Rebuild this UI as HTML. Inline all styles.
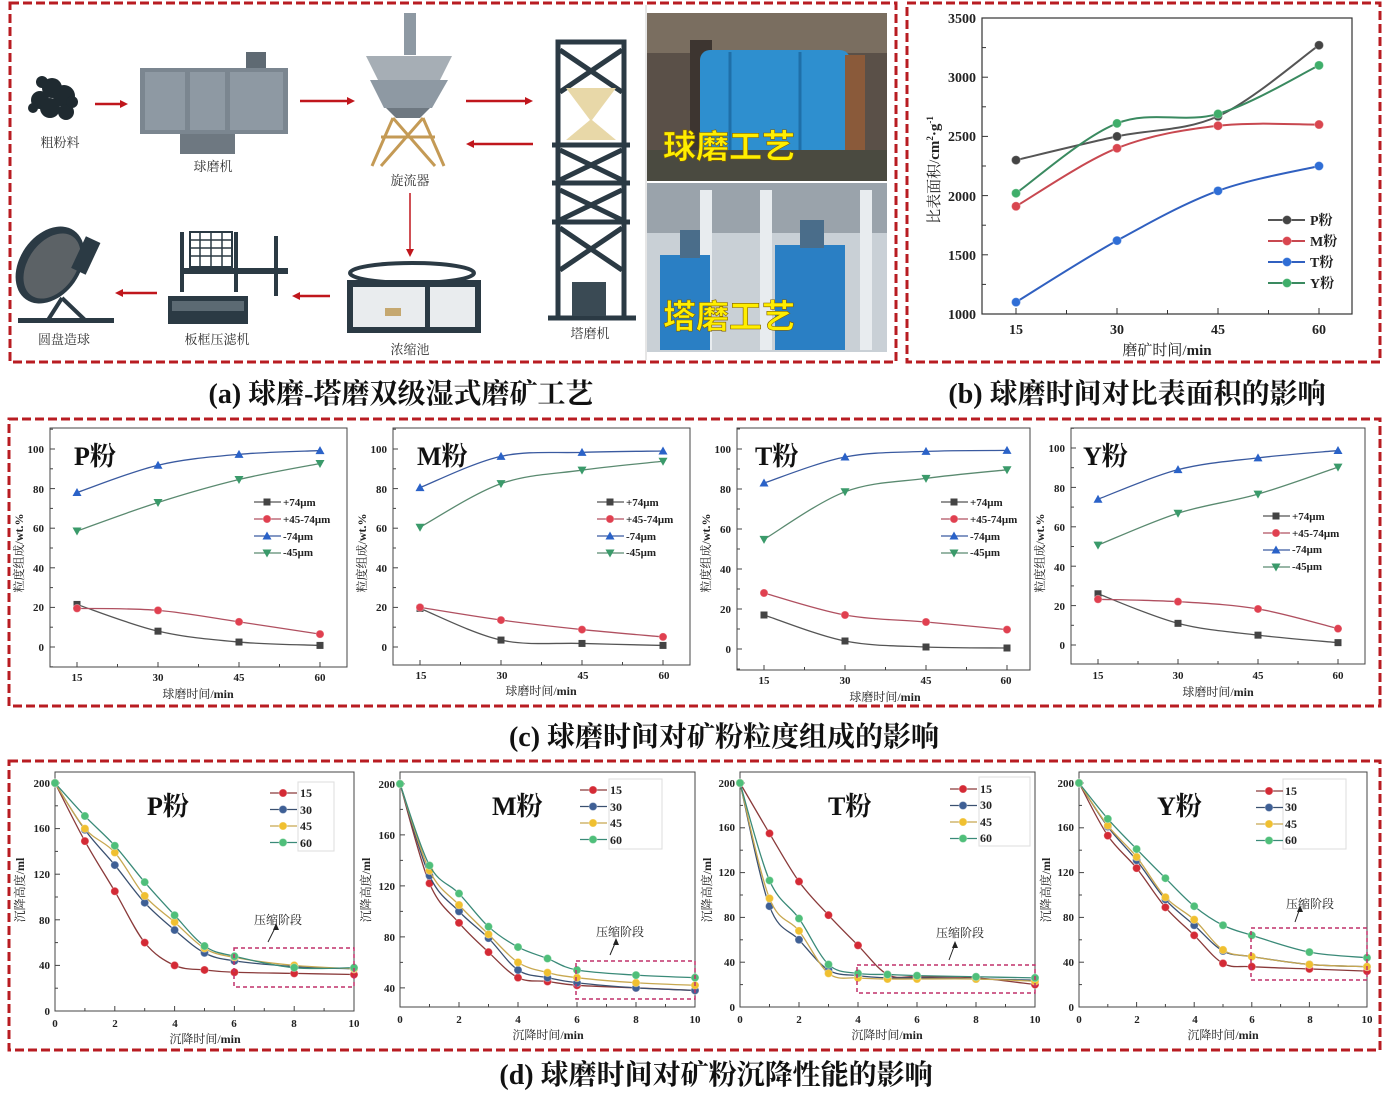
<!DOCTYPE html>
<html><head><meta charset="utf-8"><style>
html,body{margin:0;padding:0;background:#fff}
svg{display:block;font-family:"Liberation Serif","Noto Serif CJK SC",serif}
.b{font-weight:bold}
</style></head><body>
<svg id="s" width="1384" height="1109" viewBox="0 0 1384 1109" xmlns="http://www.w3.org/2000/svg">
<rect width="1384" height="1109" fill="#fff"/>
<g fill="none" stroke="#b81c22" stroke-width="3" stroke-dasharray="9 4">
<rect x="10" y="3" width="886" height="359"/>
<rect x="907" y="3" width="473" height="359"/>
<rect x="9" y="419" width="1371" height="287"/>
<rect x="9" y="761" width="1371" height="289"/>
</g>

<g>
<g fill="#1f2a30"><circle cx="40" cy="100" r="9"/><circle cx="52" cy="88" r="10"/><circle cx="64" cy="96" r="11"/><circle cx="50" cy="108" r="10"/><circle cx="66" cy="112" r="8"/><circle cx="42" cy="82" r="6"/><circle cx="72" cy="102" r="6"/><circle cx="33" cy="108" r="5"/></g>
<text x="60" y="147" font-size="13" text-anchor="middle" fill="#333">粗粉料</text>
<rect x="140" y="68" width="148" height="66" fill="#7b8690"/>
<rect x="145" y="72" width="40" height="58" fill="#8e99a3"/><rect x="190" y="72" width="35" height="58" fill="#8e99a3"/><rect x="230" y="72" width="53" height="58" fill="#8e99a3"/>
<rect x="246" y="52" width="20" height="16" fill="#5f6a73"/><rect x="180" y="134" width="55" height="20" fill="#6e7881"/>
<text x="213" y="171" font-size="13" text-anchor="middle" fill="#333">球磨机</text>
<rect x="404" y="13" width="12" height="42" fill="#8e99a3"/>
<polygon points="366,56 452,56 440,80 378,80" fill="#a6aeb5"/>
<polygon points="370,80 448,80 432,108 384,108" fill="#8e99a3"/>
<polygon points="386,108 430,108 420,118 396,118" fill="#6e7881"/>
<g stroke="#c49a55" stroke-width="3" fill="none"><line x1="393" y1="118" x2="372" y2="166"/><line x1="423" y1="118" x2="444" y2="166"/><line x1="381" y1="137" x2="435" y2="137"/><line x1="393" y1="118" x2="435" y2="166"/><line x1="423" y1="118" x2="381" y2="166"/></g>
<text x="410" y="185" font-size="13" text-anchor="middle" fill="#333">旋流器</text>
<g fill="none" stroke="#2b3a44" stroke-width="5">
<rect x="558" y="42" width="66" height="276"/>
<line x1="548" y1="318" x2="636" y2="318"/>
<line x1="552" y1="145" x2="630" y2="145"/><line x1="552" y1="222" x2="630" y2="222"/><line x1="552" y1="183" x2="630" y2="183"/>
<path d="M560,50 L622,92 M622,50 L560,92 M560,150 L622,180 M622,150 L560,180 M560,190 L622,220 M622,190 L560,220 M560,228 L622,270 M622,228 L560,270"/>
</g>
<polygon points="566,88 616,88 592,120 616,140 566,140 590,120" fill="#e8d8a8"/>
<rect x="572" y="282" width="34" height="34" fill="#3a4a54"/>
<text x="590" y="338" font-size="13" text-anchor="middle" fill="#333">塔磨机</text>
<ellipse cx="412" cy="273" rx="62" ry="10" fill="none" stroke="#2b3a44" stroke-width="4"/>
<rect x="347" y="280" width="134" height="53" fill="#2b3a44"/>
<rect x="353" y="287" width="72" height="40" fill="#e9ecee"/><rect x="430" y="287" width="45" height="40" fill="#e9ecee"/>
<rect x="385" y="308" width="16" height="8" fill="#c5a870"/>
<text x="410" y="354" font-size="13" text-anchor="middle" fill="#333">浓缩池</text>
<rect x="190" y="232" width="42" height="35" fill="none" stroke="#2b3a44" stroke-width="2"/>
<g stroke="#2b3a44" stroke-width="1.5"><line x1="190" y1="240" x2="232" y2="240"/><line x1="190" y1="248" x2="232" y2="248"/><line x1="190" y1="256" x2="232" y2="256"/><line x1="200" y1="232" x2="200" y2="267"/><line x1="211" y1="232" x2="211" y2="267"/><line x1="222" y1="232" x2="222" y2="267"/></g>
<rect x="183" y="268" width="105" height="6" fill="#2b3a44"/><rect x="180" y="232" width="4" height="60" fill="#2b3a44"/><rect x="234" y="232" width="4" height="60" fill="#2b3a44"/><rect x="274" y="236" width="4" height="60" fill="#2b3a44"/>
<rect x="168" y="296" width="80" height="28" fill="#2b3a44"/><rect x="172" y="301" width="72" height="10" fill="#5c6a73"/>
<text x="217" y="344" font-size="13" text-anchor="middle" fill="#333">板框压滤机</text>
<ellipse cx="50" cy="265" rx="30" ry="42" transform="rotate(35 50 265)" fill="#2b3a44"/>
<ellipse cx="52" cy="266" rx="24" ry="36" transform="rotate(35 52 266)" fill="#5c6266"/>
<rect x="78" y="238" width="16" height="35" transform="rotate(25 86 255)" fill="#2b3a44"/>
<path d="M62,298 L48,320 M62,298 L85,320" stroke="#2b3a44" stroke-width="4"/>
<rect x="18" y="318" width="96" height="5" fill="#2b3a44"/>
<text x="64" y="344" font-size="13" text-anchor="middle" fill="#333">圆盘造球</text>
<g stroke="#c0161c" stroke-width="2.5" fill="#c0161c">
<line x1="95" y1="104" x2="122" y2="104"/><polygon points="128,104 120,100 120,108" stroke="none"/>
<line x1="300" y1="101" x2="349" y2="101"/><polygon points="355,101 347,97 347,105" stroke="none"/>
<line x1="466" y1="101" x2="527" y2="101"/><polygon points="533,101 525,97 525,105" stroke="none"/>
<line x1="472" y1="144" x2="533" y2="144"/><polygon points="466,144 474,140 474,148" stroke="none"/>
<line x1="410" y1="193" x2="410" y2="250" stroke-width="1.5"/><polygon points="410,257 406,249 414,249" stroke="none"/>
<line x1="298" y1="296" x2="330" y2="296"/><polygon points="292,296 300,292 300,300" stroke="none"/>
<line x1="121" y1="293" x2="157" y2="293"/><polygon points="115,293 123,289 123,297" stroke="none"/>
</g>
<line x1="646" y1="5" x2="646" y2="360" stroke="#ccc"/>
<rect x="647" y="13" width="240" height="168" fill="#5a5048"/>
<rect x="647" y="13" width="240" height="40" fill="#7a6e60"/>
<rect x="690" y="40" width="22" height="110" fill="#3d3530"/>
<rect x="700" y="50" width="150" height="110" rx="10" fill="#2e8fcf"/>
<g stroke="#1f6fa8" stroke-width="3"><line x1="730" y1="52" x2="730" y2="158"/><line x1="800" y1="52" x2="800" y2="158"/></g>
<rect x="845" y="55" width="20" height="100" fill="#8a5a3a"/>
<rect x="647" y="150" width="240" height="31" fill="#4a4a40"/>
<rect x="647" y="183" width="240" height="169" fill="#c9d0d6"/>
<rect x="647" y="183" width="240" height="50" fill="#9aa3ab"/>
<rect x="700" y="190" width="12" height="160" fill="#e8ecef"/><rect x="760" y="190" width="12" height="160" fill="#e8ecef"/><rect x="860" y="190" width="12" height="160" fill="#e8ecef"/>
<rect x="660" y="255" width="50" height="95" fill="#2a7fc4"/><rect x="775" y="245" width="70" height="105" fill="#2a7fc4"/>
<rect x="680" y="230" width="20" height="28" fill="#4a6d8a"/><rect x="800" y="220" width="24" height="28" fill="#4a6d8a"/>
<text x="663" y="158" font-size="33" class="b" fill="#ffee00" font-family="Noto Sans CJK SC,sans-serif" stroke="#806000" stroke-width="0.6">球磨工艺</text>
<text x="663" y="328" font-size="33" class="b" fill="#ffee00" font-family="Noto Sans CJK SC,sans-serif" stroke="#806000" stroke-width="0.6">塔磨工艺</text>
</g>

<g>
<rect x="982" y="18" width="370" height="296" fill="none" stroke="#333" stroke-width="1.2"/>
<g id="bt" stroke="#333" stroke-width="1"></g>
<g font-size="14" class="b" text-anchor="end" fill="#222">
<text x="976" y="23">3500</text><text x="976" y="82">3000</text><text x="976" y="141">2500</text><text x="976" y="201">2000</text><text x="976" y="260">1500</text><text x="976" y="319">1000</text>
</g>
<g font-size="14" class="b" text-anchor="middle" fill="#222">
<text x="1016" y="334">15</text><text x="1117" y="334">30</text><text x="1218" y="334">45</text><text x="1319" y="334">60</text>
</g>
<text x="1167" y="355" font-size="15" text-anchor="middle" fill="#222">磨矿时间/<tspan class="b">min</tspan></text>
<text transform="translate(939 170) rotate(-90)" font-size="15" text-anchor="middle" fill="#222">比表面积/<tspan class="b">cm<tspan font-size="9" dy="-6">2</tspan><tspan dy="6">·g</tspan><tspan font-size="9" dy="-6">-1</tspan></tspan></text>
<g id="bc"></g>
<g font-size="14" class="b" fill="#222">
<text x="1310" y="225">P粉</text><text x="1310" y="246">M粉</text><text x="1310" y="267">T粉</text><text x="1310" y="288">Y粉</text>
</g>
</g>

<g id="c0" transform="translate(50 428)">
<rect width="297" height="239" fill="none" stroke="#444"/>
<g class="tk"></g>
<g font-size="11" class="b" text-anchor="end" fill="#222"><text x="-6" y="223">0</text><text x="-6" y="183">20</text><text x="-6" y="144">40</text><text x="-6" y="104">60</text><text x="-6" y="65">80</text><text x="-6" y="25">100</text></g>
<g font-size="11" class="b" text-anchor="middle" fill="#222"><text x="27" y="253">15</text><text x="108" y="253">30</text><text x="189" y="253">45</text><text x="270" y="253">60</text></g>
<text x="148" y="270" font-size="12" text-anchor="middle" fill="#222">球磨时间/<tspan class="b">min</tspan></text>
<text transform="translate(-27 125) rotate(-90)" font-size="12" text-anchor="middle" fill="#222">粒度组成/<tspan class="b">wt.%</tspan></text>
<text x="24" y="37" font-size="26" class="b" fill="#111">P粉</text>
<g font-size="11" class="b" fill="#222"><text x="233" y="78">+74μm</text><text x="233" y="95">+45-74μm</text><text x="233" y="112">-74μm</text><text x="233" y="128">-45μm</text></g>
<g class="cv"></g>
</g>
<g id="c1" transform="translate(393 428)">
<rect width="297" height="237" fill="none" stroke="#444"/>
<g class="tk"></g>
<g font-size="11" class="b" text-anchor="end" fill="#222"><text x="-6" y="223">0</text><text x="-6" y="183">20</text><text x="-6" y="144">40</text><text x="-6" y="104">60</text><text x="-6" y="65">80</text><text x="-6" y="25">100</text></g>
<g font-size="11" class="b" text-anchor="middle" fill="#222"><text x="28" y="251">15</text><text x="109" y="251">30</text><text x="190" y="251">45</text><text x="271" y="251">60</text></g>
<text x="148" y="267" font-size="12" text-anchor="middle" fill="#222">球磨时间/<tspan class="b">min</tspan></text>
<text transform="translate(-27 125) rotate(-90)" font-size="12" text-anchor="middle" fill="#222">粒度组成/<tspan class="b">wt.%</tspan></text>
<text x="24" y="37" font-size="26" class="b" fill="#111">M粉</text>
<g font-size="11" class="b" fill="#222"><text x="233" y="78">+74μm</text><text x="233" y="95">+45-74μm</text><text x="233" y="112">-74μm</text><text x="233" y="128">-45μm</text></g>
<g class="cv"></g>
</g>
<g id="c2" transform="translate(737 428)">
<rect width="293" height="242" fill="none" stroke="#444"/>
<g class="tk"></g>
<g font-size="11" class="b" text-anchor="end" fill="#222"><text x="-6" y="225">0</text><text x="-6" y="185">20</text><text x="-6" y="145">40</text><text x="-6" y="105">60</text><text x="-6" y="65">80</text><text x="-6" y="25">100</text></g>
<g font-size="11" class="b" text-anchor="middle" fill="#222"><text x="27" y="256">15</text><text x="108" y="256">30</text><text x="189" y="256">45</text><text x="269" y="256">60</text></g>
<text x="148" y="273" font-size="12" text-anchor="middle" fill="#222">球磨时间/<tspan class="b">min</tspan></text>
<text transform="translate(-27 125) rotate(-90)" font-size="12" text-anchor="middle" fill="#222">粒度组成/<tspan class="b">wt.%</tspan></text>
<text x="18" y="37" font-size="26" class="b" fill="#111">T粉</text>
<g font-size="11" class="b" fill="#222"><text x="233" y="78">+74μm</text><text x="233" y="95">+45-74μm</text><text x="233" y="112">-74μm</text><text x="233" y="128">-45μm</text></g>
<g class="cv"></g>
</g>
<g id="c3" transform="translate(1071 428)">
<rect width="294" height="236" fill="none" stroke="#444"/>
<g class="tk"></g>
<g font-size="11" class="b" text-anchor="end" fill="#222"><text x="-6" y="221">0</text><text x="-6" y="182">20</text><text x="-6" y="143">40</text><text x="-6" y="103">60</text><text x="-6" y="64">80</text><text x="-6" y="24">100</text></g>
<g font-size="11" class="b" text-anchor="middle" fill="#222"><text x="27" y="251">15</text><text x="107" y="251">30</text><text x="187" y="251">45</text><text x="267" y="251">60</text></g>
<text x="147" y="268" font-size="12" text-anchor="middle" fill="#222">球磨时间/<tspan class="b">min</tspan></text>
<text transform="translate(-27 125) rotate(-90)" font-size="12" text-anchor="middle" fill="#222">粒度组成/<tspan class="b">wt.%</tspan></text>
<text x="12" y="37" font-size="26" class="b" fill="#111">Y粉</text>
<g font-size="11" class="b" fill="#222"><text x="221" y="92">+74μm</text><text x="221" y="109">+45-74μm</text><text x="221" y="125">-74μm</text><text x="221" y="142">-45μm</text></g>
<g class="cv"></g>
</g>

<g id="dd"></g>
<g font-size="11" class="b" fill="#222">
<g text-anchor="end"><text x="50" y="1015">0</text><text x="50" y="969">40</text><text x="50" y="924">80</text><text x="50" y="878">120</text><text x="50" y="832">160</text><text x="50" y="787">200</text></g>
<g text-anchor="middle"><text x="55" y="1027">0</text><text x="115" y="1027">2</text><text x="175" y="1027">4</text><text x="234" y="1027">6</text><text x="294" y="1027">8</text><text x="354" y="1027">10</text></g>
<g text-anchor="end"><text x="395" y="992">40</text><text x="395" y="941">80</text><text x="395" y="890">120</text><text x="395" y="839">160</text><text x="395" y="788">200</text></g>
<g text-anchor="middle"><text x="400" y="1023">0</text><text x="459" y="1023">2</text><text x="518" y="1023">4</text><text x="577" y="1023">6</text><text x="636" y="1023">8</text><text x="695" y="1023">10</text></g>
<g text-anchor="end"><text x="735" y="1011">0</text><text x="735" y="966">40</text><text x="735" y="921">80</text><text x="735" y="876">120</text><text x="735" y="831">160</text><text x="735" y="787">200</text></g>
<g text-anchor="middle"><text x="740" y="1023">0</text><text x="799" y="1023">2</text><text x="858" y="1023">4</text><text x="917" y="1023">6</text><text x="976" y="1023">8</text><text x="1035" y="1023">10</text></g>
<g text-anchor="end"><text x="1074" y="1011">0</text><text x="1074" y="966">40</text><text x="1074" y="921">80</text><text x="1074" y="876">120</text><text x="1074" y="831">160</text><text x="1074" y="787">200</text></g>
<g text-anchor="middle"><text x="1079" y="1023">0</text><text x="1137" y="1023">2</text><text x="1195" y="1023">4</text><text x="1252" y="1023">6</text><text x="1310" y="1023">8</text><text x="1367" y="1023">10</text></g>
</g>
<g font-size="12" fill="#222" text-anchor="middle">
<text x="205" y="1043">沉降时间/<tspan class="b">min</tspan></text>
<text x="548" y="1039">沉降时间/<tspan class="b">min</tspan></text>
<text x="887" y="1039">沉降时间/<tspan class="b">min</tspan></text>
<text x="1223" y="1039">沉降时间/<tspan class="b">min</tspan></text>
<text transform="translate(24 890) rotate(-90)">沉降高度/<tspan class="b">ml</tspan></text>
<text transform="translate(370 890) rotate(-90)">沉降高度/<tspan class="b">ml</tspan></text>
<text transform="translate(711 890) rotate(-90)">沉降高度/<tspan class="b">ml</tspan></text>
<text transform="translate(1050 890) rotate(-90)">沉降高度/<tspan class="b">ml</tspan></text>
</g>
<g font-size="12" fill="#222">
<text x="254" y="924">压缩阶段</text><text x="596" y="936">压缩阶段</text><text x="936" y="937">压缩阶段</text><text x="1286" y="908">压缩阶段</text>
</g>
<g font-size="26" class="b" fill="#111">
<text x="147" y="815">P粉</text><text x="492" y="815">M粉</text><text x="828" y="815">T粉</text><text x="1157" y="815">Y粉</text>
</g>
<g font-size="12" class="b" fill="#222">
<text x="300" y="797">15</text><text x="300" y="814">30</text><text x="300" y="830">45</text><text x="300" y="847">60</text>
<text x="610" y="794">15</text><text x="610" y="811">30</text><text x="610" y="827">45</text><text x="610" y="844">60</text>
<text x="980" y="793">15</text><text x="980" y="809">30</text><text x="980" y="826">45</text><text x="980" y="842">60</text>
<text x="1285" y="795">15</text><text x="1285" y="811">30</text><text x="1285" y="828">45</text><text x="1285" y="844">60</text>
</g>

<g font-size="28" fill="#111" text-anchor="middle" font-weight="bold">
<text x="401" y="403">(a) 球磨-塔磨双级湿式磨矿工艺</text>
<text x="1137" y="403">(b) 球磨时间对比表面积的影响</text>
<text x="724" y="746">(c) 球磨时间对矿粉粒度组成的影响</text>
<text x="716" y="1084">(d) 球磨时间对矿粉沉降性能的影响</text>
</g>
</svg>
<script>
function cr(p){let d='M'+p[0];for(let i=0;i<p.length-1;i++){const p0=p[i-1]||p[i],p1=p[i],p2=p[i+1],p3=p[i+2]||p2;
const c1=[p1[0]+(p2[0]-p0[0])/6,p1[1]+(p2[1]-p0[1])/6],c2=[p2[0]-(p3[0]-p1[0])/6,p2[1]-(p3[1]-p1[1])/6];d+=' C'+c1+' '+c2+' '+p2;}return d;}
function mk(t,x,y,c){if(t=='s')return `<rect x="${x-3.5}" y="${y-3.5}" width="7" height="7" fill="${c}"/>`;
if(t=='u')return `<polygon points="${x},${y-4.5} ${x-4.5},${y+3.5} ${x+4.5},${y+3.5}" fill="${c}"/>`;
if(t=='d')return `<polygon points="${x},${y+4.5} ${x-4.5},${y-3.5} ${x+4.5},${y-3.5}" fill="${c}"/>`;
return `<circle cx="${x}" cy="${y}" r="${t=='b'?4.5:4}" fill="${c}" stroke="#fff" stroke-opacity=".3"/>`;}
(function(){let h='';const X=i=>1016+i*101,Y=v=>314-(v-1000)*0.1184;
for(let v=1000;v<=3500;v+=250)h+=`<line x1="982" y1="${Y(v)}" x2="${v%500?986:988}" y2="${Y(v)}"/>`;
for(let i=0;i<7;i++){const x=1016+i*50.5;h+=`<line x1="${x}" y1="314" x2="${x}" y2="${i%2?310:308}"/>`;}
document.getElementById('bt').innerHTML=h;
const S=[['#444','#555',[2300,2500,2670,3270]],['#d9464f','#c84850',[1910,2400,2590,2600]],['#2f6ed6','#3060c0',[1100,1620,2040,2250]],['#3fae6a','#3a8a60',[2020,2610,2690,3100]]];
let g='';S.forEach((s,k)=>{const p=s[2].map((v,i)=>[X(i),Y(v)]);g+=`<path d="${cr(p)}" fill="none" stroke="${s[1]}" stroke-width="2"/>`;p.forEach(q=>g+=mk('b',q[0],q[1],s[0]));
const ly=220+k*21;g+=`<line x1="1268" y1="${ly}" x2="1305" y2="${ly}" stroke="${s[1]}" stroke-width="2"/>`+mk('b',1287,ly,s[0]);});
document.getElementById('bc').innerHTML=g;})();
const CD=[
[[21.5,8,2.5,0.8],[19.5,18.5,12.7,6.5],[78,91.8,97.3,99.2],[58.6,73,84.6,92.7]],
[[19.5,3.5,1.8,0.8],[20,13.6,8.8,5.1],[80.5,96.3,98.3,99],[60.5,82.5,89.3,93.8]],
[[17,4,1,0.5],[28,17,13.5,9.7],[83,96,98.8,99.3],[54.8,78.6,85.3,89.6]],
[[26,11,5,1.2],[23.2,22,18.3,8.3],[74,89,95,98.7],[50.7,66.9,76.6,90.3]]];
const CS=[['s','#444','#555'],['c','#e04050','#b05060'],['u','#2a62c8','#3a5aa0'],['d','#3a9a6a','#5a8a70']];
CD.forEach((data,ci)=>{const g=document.getElementById('c'+ci);const hgt=+g.querySelector('rect').getAttribute('height');
const b0=ci==2?221:(ci==3?217:219),sc=ci==2?2.0:(ci==3?1.97:1.98),dx=ci==3?80:81;
const X=i=>27+i*dx,Y=v=>b0-v*sc;let t='';
for(let v=-10;v<=110;v+=10){const y=Y(v);if(y>0&&y<hgt)t+=`<line x1="0" y1="${y}" x2="${v%20?3:5}" y2="${y}" stroke="#444"/>`;}
for(let i=0;i<7;i++){const x=27+i*dx/2;t+=`<line x1="${x}" y1="${hgt}" x2="${x}" y2="${hgt-(i%2?3:5)}" stroke="#444"/>`;}
g.querySelector('.tk').innerHTML=t;let h='';
data.forEach((s,k)=>{const p=s.map((v,i)=>[X(i),Y(v)]);h+=`<path d="${cr(p)}" fill="none" stroke="${CS[k][2]}" stroke-width="1.3"/>`;p.forEach(q=>h+=mk(CS[k][0],q[0],q[1],CS[k][1]));
const ly=(ci==3?88:74)+k*17,lx=ci==3?192:204;h+=`<line x1="${lx}" y1="${ly}" x2="${lx+27}" y2="${ly}" stroke="${CS[k][2]}" stroke-width="1.3"/>`+mk(CS[k][0],lx+13,ly,CS[k][1]);});
g.querySelector('.cv').innerHTML=h;});
const T=[0,1,2,3,4,5,6,8,10];
const DC=[
{x0:55,x1:354,top:772,yb:1011,vmin:0,sy:1.14,box:[234,948,354,987],lx:270,ly:793,ar:[268,942,276,926],lg:[298,782,334,851],
 d:[[200,149,105,60,40,36,34,33,32],[200,159,128,95,71,51,44,39,37],[200,160,139,101,78,55,47,40,37],[200,171,145,113,84,57,48,38,38]]},
{x0:400,x1:695,top:772,yb:1007,vmin:25,sy:1.275,box:[576,961,695,999],lx:580,ly:790,ar:[610,955,616,941],lg:[609,779,662,849],
 d:[[200,122,91,68,48,45,42,40,38],[200,128,100,79,54,48,44,40,38],[200,132,105,82,60,52,48,44,42],[200,136,114,88,72,63,54,50,48]]},
{x0:740,x1:1035,top:772,yb:1007,vmin:0,sy:1.12,box:[857,965,1035,993],lx:950,ly:789,ar:[949,960,955,944],lg:[979,777,1030,846],
 d:[[200,155,112,82,55,29,27,26,20],[200,90,60,33,28,26,26,25,24],[200,97,68,30,26,25,25,25,23],[200,113,79,38,30,29,28,27,26]]},
{x0:1079,x1:1367,top:772,yb:1007,vmin:0,sy:1.12,box:[1251,928,1367,980],lx:1256,ly:791,ar:[1295,922,1300,908],lg:[1283,779,1346,849],
 d:[[200,153,124,89,64,39,36,34,32],[200,161,131,96,73,50,45,38,36],[200,162,134,98,78,51,45,38,36],[200,168,141,115,90,73,64,49,44]]}];
const DS=[['#d42a35','#8a3a3a'],['#3e5f95','#3a5070'],['#f0c030','#c8a850'],['#4fbf7a','#3a8a78']];
let dh='';DC.forEach(c=>{const sx=(c.x1-c.x0)/10,X=t=>c.x0+t*sx,Y=v=>c.yb-(v-c.vmin)*c.sy;
dh+=`<rect x="${c.x0}" y="${c.top}" width="${c.x1-c.x0}" height="${c.yb-c.top}" fill="none" stroke="#444"/>`;
for(let t=0;t<=10;t++)dh+=`<line x1="${X(t)}" y1="${c.yb}" x2="${X(t)}" y2="${c.yb-(t%2?3:5)}" stroke="#444"/>`;
for(let v=0;v<=210;v+=20){const y=Y(v);if(y<c.yb&&y>c.top)dh+=`<line x1="${c.x0}" y1="${y}" x2="${c.x0+(v%40?3:5)}" y2="${y}" stroke="#444"/>`;}
dh+=`<rect x="${c.lg[0]}" y="${c.lg[1]}" width="${c.lg[2]-c.lg[0]}" height="${c.lg[3]-c.lg[1]}" fill="none" stroke="#ddd"/>`;
c.d.forEach((s,k)=>{const p=s.map((v,i)=>[X(T[i]),Y(v)]);dh+=`<path d="${cr(p)}" fill="none" stroke="${DS[k][1]}" stroke-width="1.3"/>`;p.forEach(q=>dh+=mk('c',q[0],q[1],DS[k][0]));
const ly=c.ly+k*16.5;dh+=`<line x1="${c.lx}" y1="${ly}" x2="${c.lx+27}" y2="${ly}" stroke="${DS[k][1]}" stroke-width="1.3"/>`+mk('c',c.lx+13,ly,DS[k][0]);});
const b=c.box;dh+=`<rect x="${b[0]}" y="${b[1]}" width="${b[2]-b[0]}" height="${b[3]-b[1]}" fill="none" stroke="#c0306a" stroke-width="1.5" stroke-dasharray="4 3"/>`;
const a=c.ar;dh+=`<line x1="${a[0]}" y1="${a[1]}" x2="${a[2]}" y2="${a[3]}" stroke="#222"/><polygon points="${a[2]},${a[3]-3} ${a[2]-3},${a[3]+4} ${a[2]+3},${a[3]+4}" fill="#222"/>`;});
document.getElementById('dd').innerHTML=dh;
</script>
</body></html>
